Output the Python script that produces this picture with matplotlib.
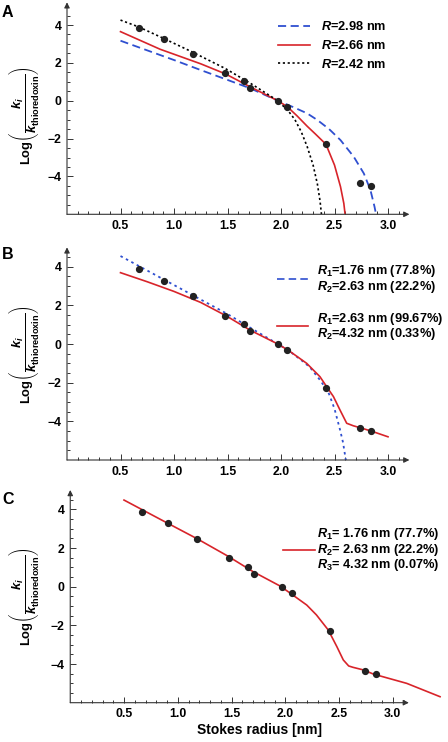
import numpy as np
import matplotlib
matplotlib.use("Agg")
import matplotlib.pyplot as plt
from matplotlib.ticker import FixedLocator
from matplotlib.lines import Line2D

plt.rcParams['font.family'] = ['Liberation Sans', 'DejaVu Sans']
plt.rcParams['font.weight'] = 'bold'
plt.rcParams['mathtext.fontset'] = 'custom'
plt.rcParams['mathtext.rm'] = 'Liberation Sans:bold'
plt.rcParams['mathtext.it'] = 'Liberation Sans:italic:bold'
plt.rcParams['mathtext.bf'] = 'Liberation Sans:bold'

# measured points (same in all panels)
stokes_r = [0.67, 0.91, 1.18, 1.48, 1.65, 1.71, 1.97, 2.06, 2.42, 2.74, 2.84]
log_ki = [3.86, 3.28, 2.47, 1.46, 1.02, 0.67, 0.0, -0.33, -2.28, -4.37, -4.52]

# panel A: single pore radius fits
a_r298_x = [0.5, 0.75, 1.0, 1.25, 1.5, 1.715, 1.97, 2.12, 2.245, 2.34, 2.45, 2.556, 2.68, 2.774, 2.836, 2.874, 2.89]
a_r298_y = [3.17, 2.66, 2.15, 1.62, 1.1, 0.65, 0.0, -0.35, -0.67, -1.02, -1.5, -2.08, -2.96, -3.84, -4.72, -5.6, -6.05]
a_r266_x = [0.5, 0.87, 1.25, 1.48, 1.71, 1.97, 2.06, 2.15, 2.245, 2.32, 2.42, 2.50, 2.556, 2.587, 2.60]
a_r266_y = [3.65, 2.72, 1.95, 1.42, 0.74, 0.0, -0.32, -0.8, -1.35, -1.75, -2.3, -3.4, -4.54, -5.42, -6.05]
a_r242_x = [0.5, 0.67, 0.9, 1.18, 1.48, 1.72, 1.97, 2.07, 2.13, 2.19, 2.245, 2.30, 2.34, 2.365, 2.38]
a_r242_y = [4.26, 3.9, 3.3, 2.55, 1.7, 0.9, 0.0, -0.55, -1.0, -1.65, -2.43, -3.4, -4.4, -5.3, -6.1]

# panel B: two-radius fits
b_blue_x = [0.5, 0.75, 1.0, 1.25, 1.5, 1.65, 1.75, 1.97, 2.07, 2.2, 2.27, 2.364, 2.43, 2.45, 2.50, 2.55, 2.58, 2.607]
b_blue_y = [4.55, 3.8, 3.05, 2.3, 1.55, 1.05, 0.72, 0.0, -0.33, -0.88, -1.2, -1.86, -2.38, -2.6, -3.35, -4.4, -5.1, -6.05]
b_red_x = [0.5, 0.75, 1.0, 1.25, 1.49, 1.71, 1.97, 2.07, 2.24, 2.364, 2.427, 2.49, 2.551, 2.614, 2.676, 2.77, 2.863, 3.0]
b_red_y = [3.69, 3.22, 2.72, 2.15, 1.45, 0.72, 0.0, -0.33, -1.0, -1.69, -2.21, -2.72, -3.41, -4.10, -4.23, -4.38, -4.54, -4.8]

# panel C: three-radius fit
c_red_x = [0.5, 0.9, 1.18, 1.46, 1.7, 1.95, 2.04, 2.2, 2.29, 2.4, 2.48, 2.54, 2.59, 2.63, 2.73, 2.82, 3.13, 3.44]
c_red_y = [4.48, 3.3, 2.48, 1.6, 0.78, 0.04, -0.31, -0.95, -1.46, -2.24, -3.1, -3.79, -4.1, -4.17, -4.31, -4.52, -5.0, -5.69]

x_major = [0.5, 1.0, 1.5, 2.0, 2.5, 3.0]
x_minor = [i / 10 for i in range(1, 32)]
y_major = [-4, -2, 0, 2, 4]
y_minor = [i / 2 for i in range(-11, 10)]

BLUE = '#2f4fd0'
RED = '#d8242a'
AX = '#333333'

W, H = 448, 742
fig = plt.figure(figsize=(W / 100, H / 100), dpi=100)

ylab = r'Log$\left(\dfrac{k_i}{k_{\mathrm{thioredoxin}}}\right)$'


def make_axes(left, top, bottom, scale, ytop, xarrow, letter, letter_top, label_y):
    width = W - left
    ax = fig.add_axes([left / W, 1 - bottom / H, width / W, (bottom - top) / H])
    ax.set_xlim(0, width / scale)
    ax.set_ylim(-6, ytop)
    for s in ax.spines.values():
        s.set_visible(False)
    arrow = dict(arrowstyle='-|>', lw=0.8, color=AX, mutation_scale=8,
                 shrinkA=0, shrinkB=0)
    ax.annotate('', xy=(xarrow, -6), xytext=(0, -6), arrowprops=arrow,
                annotation_clip=False)
    ax.annotate('', xy=(0, ytop), xytext=(0, -6), arrowprops=arrow,
                annotation_clip=False)
    ax.xaxis.set_major_locator(FixedLocator(x_major))
    ax.xaxis.set_minor_locator(FixedLocator(x_minor))
    ax.yaxis.set_major_locator(FixedLocator(y_major))
    ax.yaxis.set_minor_locator(FixedLocator([v for v in y_minor if v < ytop]))
    ax.tick_params(which='both', direction='in', color=AX, width=0.7,
                   labelsize=8.8, pad=4)
    ax.tick_params(which='major', length=4)
    ax.tick_params(which='minor', length=2.5)
    ax.text((24 - left) / width, label_y, ylab, transform=ax.transAxes,
            rotation=90, ha='center', va='center', fontsize=9.4)
    fig.text(2 / W, 1 - letter_top / H, letter, fontsize=11.5,
             fontweight='bold', ha='left', va='top')
    return ax


def points(ax):
    ax.plot(stokes_r, log_ki, 'o', color='#222222', ms=4.2, zorder=5)


# ---- A
axA = make_axes(67, 2.3, 214.3, 107, 5.2, 3.2, 'A', 5, 0.468)
lb, = axA.plot(a_r298_x, a_r298_y, color=BLUE, lw=1.3, dashes=(4.5, 2.5))
lr, = axA.plot(a_r266_x, a_r266_y, color=RED, lw=1.2)
lk, = axA.plot(a_r242_x, a_r242_y, color='black', lw=1.2, dashes=(1.3, 1.6))
points(axA)
axA.legend([lb, lr, lk],
           [r'$R$=2.98 nm', r'$R$=2.66 nm', r'$R$=2.42 nm'],
           loc='upper left', bbox_to_anchor=((278 - 67) / 381, 0.915),
           frameon=False, fontsize=9.2, handlelength=2.5, handletextpad=0.9,
           borderaxespad=0, borderpad=0, labelspacing=0.45)

# ---- B
axB = make_axes(67, 247.35, 460, 107, 5.0, 3.2, 'B', 247, 0.494)
bb, = axB.plot(b_blue_x, b_blue_y, color=BLUE, lw=1.3, dashes=(1.4, 2.0))
br, = axB.plot(b_red_x, b_red_y, color=RED, lw=1.2)
points(axB)
hb = Line2D([], [], color=BLUE, lw=1.2, dashes=(4.5, 2.5))
hr = Line2D([], [], color=RED, lw=1.2)
legB = axB.legend([hb, hr],
                  ['$R_1$=1.76 nm (77.8%)\n$R_2$=2.63 nm (22.2%)',
                   '$R_1$=2.63 nm (99.67%)\n$R_2$=4.32 nm (0.33%)'],
                  loc='upper left', bbox_to_anchor=((277 - 67) / 381, 0.925),
                  frameon=False, fontsize=9.2, handlelength=2.4,
                  handletextpad=0.7, borderaxespad=0, borderpad=0,
                  labelspacing=1.25)
for t in legB.get_texts():
    t.set_linespacing(0.95)

# ---- C
axC = make_axes(70.25, 490, 702.7, 107.5, 5.0, 3.15, 'C', 492, 0.50)
cr, = axC.plot(c_red_x, c_red_y, color=RED, lw=1.2)
points(axC)
legC = axC.legend([cr],
                  ['$R_1$= 1.76 nm (77.7%)\n$R_2$= 2.63 nm (22.2%)\n$R_3$= 4.32 nm (0.07%)'],
                  loc='upper left', bbox_to_anchor=((283 - 70.25) / 377.75, 0.83),
                  frameon=False, fontsize=9.2, handlelength=2.5,
                  handletextpad=0.15, borderaxespad=0, borderpad=0)
for t in legC.get_texts():
    t.set_linespacing(0.95)
axC.set_xlabel('Stokes radius [nm]', fontsize=10, fontweight='bold', labelpad=2)

fig.savefig('out.png', dpi=100)
